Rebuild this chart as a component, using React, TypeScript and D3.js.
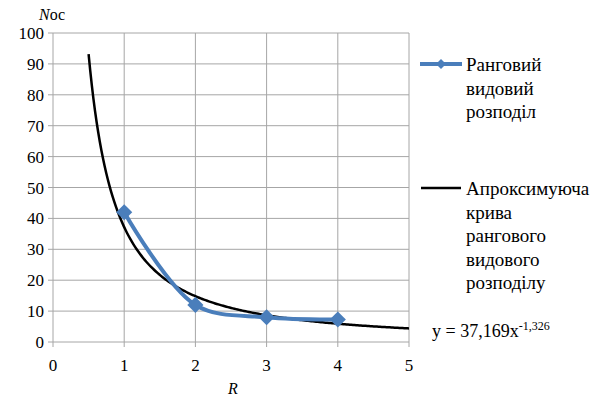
import React from 'react';
import * as d3 from 'd3';

// rank distribution points
const ranks = [1, 2, 3, 4];
const counts = [42, 12, 8, 7.3];

// power trend line y = a * x^b
const trendA = 37.169;
const trendB = -1.326;
const trendFrom = 0.5;
const trendTo = 5;

const xTicks = [0, 1, 2, 3, 4, 5];
const yTicks = [0, 10, 20, 30, 40, 50, 60, 70, 80, 90, 100];

const legend1 = ['Ранговий', 'видовий', 'розподіл'];
const legend2 = ['Апроксимуюча', 'крива', 'рангового', 'видового', 'розподілу'];

const W = 602;
const H = 401;
const blue = '#4a7ebb';

export default function App() {
  const x = d3.scaleLinear().domain([0, 5]).range([53, 409]);
  const y = d3.scaleLinear().domain([0, 100]).range([342, 33]);

  const pts = ranks.map((r, i) => [r, counts[i]] as [number, number]);
  const dataLine = d3.line<[number, number]>()
    .x(d => x(d[0]))
    .y(d => y(d[1]))
    .curve(d3.curveCatmullRom.alpha(0.5));

  // sample the fitted function along x
  const trendPts: [number, number][] = d3.range(0, 201).map(i => {
    const t = trendFrom + (trendTo - trendFrom) * i / 200;
    return [t, trendA * Math.pow(t, trendB)];
  });
  const trendLine = d3.line<[number, number]>().x(d => x(d[0])).y(d => y(d[1]));

  const diamond = d3.symbol().type(d3.symbolSquare).size(130)();
  const smallDiamond = d3.symbol().type(d3.symbolSquare).size(50)();

  return (
    <svg width={W} height={H} style={{ position: 'absolute', left: 0, top: 0 }}>
      <rect width={W} height={H} fill="#fff" />
      {yTicks.map(t => (
        <line key={'gy' + t} x1={x(0) - 5} x2={x(5)} y1={y(t)} y2={y(t)} stroke="#a6a6a6" strokeWidth={1} />
      ))}
      {xTicks.map(t => (
        <line key={'gx' + t} x1={x(t)} x2={x(t)} y1={y(100)} y2={y(0) + 5} stroke="#a6a6a6" strokeWidth={1} />
      ))}
      {yTicks.map(t => (
        <text key={'ty' + t} x={44} y={y(t) + 6} textAnchor="end" fontSize={17} fontFamily="Tinos">{t}</text>
      ))}
      {xTicks.map(t => (
        <text key={'tx' + t} x={x(t)} y={371} textAnchor="middle" fontSize={17} fontFamily="Tinos">{t}</text>
      ))}
      <text x={39} y={20} fontSize={16} fontFamily="Tinos"><tspan fontStyle="italic">N</tspan>ос</text>
      <text x={228} y={394} fontSize={16} fontStyle="italic" fontFamily="Tinos">R</text>

      <path d={trendLine(trendPts) ?? ''} fill="none" stroke="#000" strokeWidth={2.5} />
      <path d={dataLine(pts) ?? ''} fill="none" stroke={blue} strokeWidth={4} />
      {pts.map((p, i) => (
        <path key={i} d={diamond ?? ''} transform={`translate(${x(p[0])},${y(p[1])}) rotate(45)`} fill={blue} />
      ))}

      <line x1={420} x2={462} y1={64} y2={64} stroke={blue} strokeWidth={4} />
      <path d={smallDiamond ?? ''} transform="translate(441,64) rotate(45)" fill={blue} />
      {legend1.map((s, i) => (
        <text key={s} x={466} y={71 + i * 23.5} fontSize={19} fontFamily="Tinos">{s}</text>
      ))}

      <line x1={421} x2={461} y1={188} y2={188} stroke="#000" strokeWidth={2.5} />
      {legend2.map((s, i) => (
        <text key={s + i} x={466} y={195 + i * 23.5} fontSize={19} fontFamily="Tinos">{s}</text>
      ))}

      <text x={432} y={337} fontSize={18} fontFamily="Tinos">
        y = 37,169x<tspan dy={-7} fontSize={12}>-1,326</tspan>
      </text>
    </svg>
  );
}
